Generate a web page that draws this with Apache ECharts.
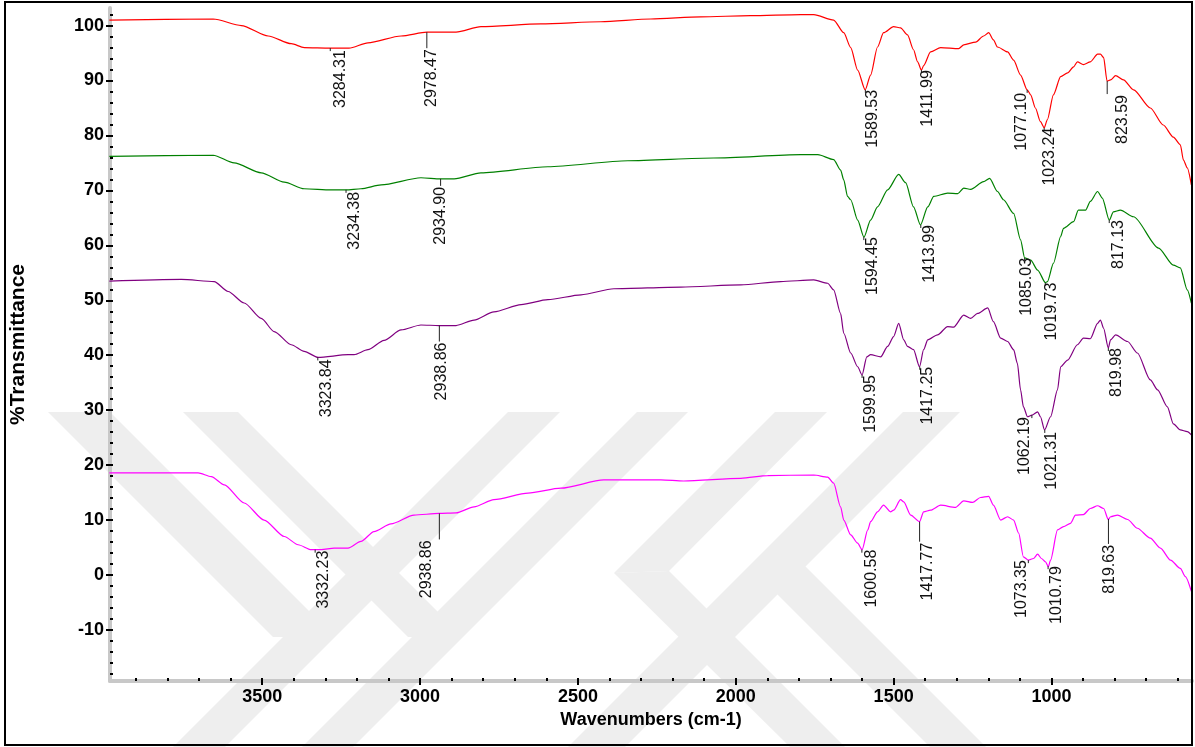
<!DOCTYPE html>
<html>
<head>
<meta charset="utf-8">
<title>FTIR spectra</title>
<script src="https://cdn.jsdelivr.net/npm/echarts@6/dist/echarts.min.js"></script>
<style>
  html, body { margin: 0; padding: 0; background: #fff; }
  #chart { width: 1195px; height: 747px; }
</style>
</head>
<body>
<div id="chart"></div>
<script>
// Data spektrum (bilangan gelombang, %T)
const wnRed = [3984, 3655, 3566, 3481, 3408, 3367, 3285, 3225, 3165, 3060, 2978, 2886, 2807, 2617, 2427, 2269, 2111, 1953, 1794, 1753, 1690, 1658, 1636, 1614, 1590, 1573, 1551, 1532, 1500, 1478, 1456, 1437, 1424, 1412, 1405, 1383, 1351, 1294, 1278, 1240, 1215, 1199, 1184, 1171, 1139, 1120, 1098, 1077, 1066, 1051, 1035, 1023, 1013, 994, 971, 949, 930, 918, 899, 877, 854, 845, 835, 824, 813, 797, 772, 740, 687, 646, 614, 592, 582, 570, 557];
const tRed = [101.0, 101.2, 100.0, 98.1, 96.7, 96.0, 95.9, 95.9, 96.85, 98.1, 98.8, 98.8, 99.8, 100.3, 100.7, 101.2, 101.6, 101.8, 102.0, 102.0, 101.0, 98.7, 96.0, 91.9, 88.3, 91.0, 96.1, 98.7, 99.8, 99.6, 98.3, 95.6, 93.4, 91.9, 92.7, 95.2, 96.0, 95.8, 96.5, 97.0, 98.1, 98.7, 97.4, 96.1, 95.2, 93.7, 91.0, 88.3, 87.4, 85.0, 82.5, 81.4, 82.9, 87.4, 90.7, 91.4, 92.5, 93.4, 92.9, 93.4, 94.8, 94.8, 94.2, 89.9, 90.1, 90.9, 90.1, 88.3, 85.0, 81.9, 79.7, 78.3, 75.5, 74.1, 71.0];

const wnGreen = [3984, 3655, 3589, 3503, 3430, 3367, 3282, 3234, 3187, 3123, 2997, 2935, 2892, 2807, 2595, 2342, 2070, 1794, 1740, 1690, 1668, 1658, 1646, 1636, 1614, 1594, 1573, 1551, 1519, 1484, 1462, 1437, 1415, 1392, 1373, 1329, 1297, 1278, 1256, 1215, 1196, 1171, 1152, 1120, 1098, 1085, 1066, 1044, 1019, 1013, 994, 971, 962, 930, 915, 892, 877, 854, 839, 817, 804, 782, 740, 661, 614, 592, 570, 557];
const tGreen = [76.2, 76.4, 75.0, 73.2, 71.5, 70.3, 70.1, 70.1, 70.3, 71.0, 72.3, 72.1, 72.1, 73.2, 74.3, 75.4, 75.9, 76.5, 76.5, 75.6, 73.7, 71.9, 68.9, 68.3, 64.6, 61.5, 64.6, 67.0, 70.1, 72.9, 71.4, 67.0, 63.7, 67.0, 68.9, 69.5, 69.4, 70.4, 70.2, 71.6, 72.2, 69.8, 68.3, 65.8, 61.0, 57.7, 57.3, 55.5, 53.2, 53.4, 56.7, 61.6, 63.1, 64.3, 66.4, 66.4, 68.0, 69.8, 68.6, 64.6, 66.1, 66.4, 65.2, 59.5, 56.4, 55.9, 51.9, 49.5];

const wnPurple = [3984, 3756, 3652, 3608, 3557, 3503, 3462, 3408, 3367, 3323, 3228, 3209, 3165, 3114, 3060, 2997, 2940, 2886, 2829, 2766, 2680, 2595, 2490, 2386, 2174, 1984, 1858, 1753, 1709, 1690, 1668, 1658, 1636, 1614, 1600, 1585, 1573, 1541, 1519, 1500, 1484, 1468, 1456, 1437, 1418, 1405, 1392, 1361, 1329, 1310, 1278, 1256, 1234, 1202, 1184, 1161, 1139, 1120, 1108, 1098, 1089, 1076, 1062, 1044, 1035, 1022, 1003, 981, 971, 949, 918, 899, 877, 854, 845, 835, 820, 813, 797, 759, 728, 687, 664, 633, 614, 592, 570, 557];
const tPurple = [53.5, 53.8, 53.4, 51.6, 49.5, 46.7, 44.3, 41.9, 40.7, 39.6, 40.1, 40.1, 41.0, 42.7, 44.6, 45.5, 45.4, 45.4, 46.4, 47.9, 49.2, 50.1, 51.0, 52.1, 52.4, 52.8, 53.4, 53.7, 53.1, 51.9, 47.6, 44.0, 40.4, 37.9, 36.4, 39.7, 40.1, 39.7, 41.6, 43.4, 45.8, 42.8, 41.6, 41.0, 37.9, 41.0, 42.8, 43.7, 45.2, 45.1, 47.3, 46.7, 47.6, 48.6, 46.1, 43.1, 42.5, 41.0, 38.5, 33.7, 30.6, 28.8, 29.1, 29.7, 28.8, 26.4, 28.8, 33.7, 37.9, 39.1, 41.9, 43.1, 43.0, 45.8, 46.4, 44.9, 41.3, 42.8, 43.7, 42.5, 40.4, 35.5, 33.7, 30.6, 27.5, 26.4, 26.1, 25.5];

const wnMagenta = [3984, 3703, 3661, 3620, 3557, 3494, 3430, 3386, 3345, 3313, 3272, 3228, 3187, 3146, 3092, 3019, 2940, 2886, 2829, 2766, 2658, 2554, 2418, 2237, 2165, 1984, 1899, 1753, 1709, 1690, 1668, 1658, 1636, 1614, 1600, 1582, 1573, 1551, 1532, 1510, 1500, 1478, 1468, 1446, 1418, 1405, 1383, 1351, 1304, 1278, 1250, 1225, 1199, 1184, 1161, 1139, 1120, 1104, 1089, 1073, 1057, 1044, 1032, 1019, 1010, 1003, 981, 962, 940, 924, 899, 877, 854, 835, 820, 813, 791, 759, 728, 687, 655, 623, 592, 576, 557];
const tMagenta = [18.6, 18.6, 17.9, 16.4, 13.1, 10.0, 7.0, 5.5, 4.6, 4.6, 4.9, 4.9, 6.1, 7.9, 9.3, 10.9, 11.2, 11.3, 12.4, 13.7, 14.9, 15.8, 17.3, 17.3, 17.1, 17.6, 18.1, 18.2, 17.8, 16.7, 12.4, 10.0, 7.3, 5.8, 4.6, 8.2, 9.7, 11.5, 12.7, 11.5, 11.8, 13.7, 13.3, 10.9, 9.7, 11.5, 11.8, 12.7, 12.3, 13.5, 13.2, 14.1, 14.3, 12.7, 10.0, 10.6, 10.0, 7.6, 3.3, 2.7, 3.0, 3.8, 3.0, 2.4, 1.5, 2.7, 8.2, 8.8, 9.4, 10.9, 11.0, 12.1, 12.6, 12.1, 10.1, 10.6, 10.9, 10.1, 8.5, 6.7, 4.9, 2.7, 1.2, -0.3, -3.0];

// Puncak yang diberi label
const peaksRed = [3284.31, 2978.47, 1589.53, 1411.99, 1077.10, 1023.24, 823.59];
const peakTRed = [95.9, 98.8, 88.3, 91.9, 88.3, 81.4, 89.9];
const peaksGreen = [3234.38, 2934.90, 1594.45, 1413.99, 1085.03, 1019.73, 817.13];
const peakTGreen = [70.1, 72.1, 61.5, 63.7, 57.7, 53.2, 64.6];
const peaksPurple = [3323.84, 2938.86, 1599.95, 1417.25, 1062.19, 1021.31, 819.98];
const peakTPurple = [39.6, 45.4, 36.4, 37.9, 29.1, 26.4, 41.3];
const peaksMagenta = [3332.23, 2938.86, 1600.58, 1417.77, 1073.35, 1010.79, 819.63];
const peakTMagenta = [4.6, 11.2, 4.6, 9.7, 2.7, 1.6, 10.2];

// Tick sumbu
const xMajor = [1000, 1500, 2000, 2500, 3000, 3500];
const yMajor = [-10, 0, 10, 20, 30, 40, 50, 60, 70, 80, 90, 100];
const xMinor = [];
for (let v = 600; v <= 3900; v += 100) xMinor.push(v);
const yMinor = [];
for (let v = -18; v <= 102; v += 2) yMinor.push(v);

// Geser label (px): [jarak teks ke puncak, geser horizontal]
const nudgeRed = [[2, 2], [17, -3], [0, -1], [0, -2], [3, -14], [0, -3], [14, 7]];
const nudgeGreen = [[2, 1], [8, -8], [0, 1], [0, 1], [0, -6], [0, -2], [0, 1]];
const nudgePurple = [[2, 1], [17, -6], [0, 1], [0, 0], [2, -15], [2, -1], [0, 0]];
const nudgeMagenta = [[1, 0], [27, -21], [0, 2], [21, 0], [0, -15], [0, 0], [26, -7]];

const pairs = (xs, ys) => xs.map((x, i) => [x, ys[i]]);
const peakData = (xs, ys, nudge) => xs.map((x, i) => [x, ys[i], nudge[i][0], nudge[i][1]]);

const font = 'Liberation Sans, Arial, sans-serif';

// Garis penunjuk + teks vertikal untuk tiap puncak
function renderPeak(params, api) {
    const pt = api.coord([api.value(0), api.value(1)]);
    const off = api.value(2);
    const dx = api.value(3);
    const lead = off >= 6 ? off - 1 : 3;
    return {
        type: 'group',
        children: [{
            type: 'line',
            shape: { x1: pt[0], y1: pt[1], x2: pt[0], y2: pt[1] + lead },
            style: { stroke: '#222', lineWidth: 1 }
        }, {
            type: 'text',
            x: pt[0] + dx,
            y: pt[1] + off,
            rotation: Math.PI / 2,
            style: {
                text: api.value(0).toFixed(2),
                fill: '#111',
                font: '16px ' + font,
                align: 'right',
                verticalAlign: 'top'
            }
        }]
    };
}

function spectrum(name, color, xs, ys) {
    return {
        name: name,
        type: 'line',
        data: pairs(xs, ys),
        showSymbol: false,
        symbol: 'none',
        smooth: 0.25,
        smoothMonotone: 'x',
        lineStyle: { color: color, width: 1.2 },
        z: 3
    };
}

function peakSeries(xs, ys, nudge) {
    return {
        type: 'custom',
        renderItem: renderPeak,
        data: peakData(xs, ys, nudge),
        clip: false,
        z: 4
    };
}

// Tanda air (latar)
function band(points) {
    return {
        type: 'polygon',
        shape: { points: points },
        style: { fill: '#eeeeee' },
        z: -10,
        silent: true
    };
}

const plainNumber = (v) => String(v);

const chart = echarts.init(document.getElementById('chart'));

chart.setOption({
    animation: false,
    backgroundColor: '#ffffff',
    grid: { left: 109, right: 3, top: 8, bottom: 66 },
    xAxis: [{
        type: 'value',
        inverse: true,
        min: 555,
        max: 3982,
        position: 'bottom',
        name: 'Wavenumbers (cm-1)',
        nameLocation: 'middle',
        nameGap: 30,
        nameTextStyle: { fontFamily: font, fontWeight: 'bold', fontSize: 18, color: '#000' },
        axisLine: { onZero: false, lineStyle: { color: '#c8c8c8', width: 4 } },
        axisTick: { customValues: xMajor, length: 4, lineStyle: { color: '#000', width: 2 } },
        axisLabel: { customValues: xMajor, formatter: plainNumber, fontFamily: font, fontWeight: 'bold', fontSize: 18, color: '#000', margin: 7 },
        splitLine: { show: false }
    }, {
        type: 'value',
        inverse: true,
        min: 555,
        max: 3982,
        position: 'bottom',
        axisLine: { show: false, onZero: false },
        axisTick: { customValues: xMinor, inside: true, length: 3, lineStyle: { color: '#000', width: 2 } },
        axisLabel: { show: false },
        splitLine: { show: false }
    }],
    yAxis: [{
        type: 'value',
        min: -19.3,
        max: 103.2,
        position: 'left',
        name: '%Transmittance',
        nameLocation: 'middle',
        nameGap: 81,
        nameTextStyle: { fontFamily: font, fontWeight: 'bold', fontSize: 21, color: '#000' },
        axisLine: { onZero: false, lineStyle: { color: '#c8c8c8', width: 4 } },
        axisTick: { customValues: yMajor, length: 4, lineStyle: { color: '#000', width: 2 } },
        axisLabel: { customValues: yMajor, formatter: plainNumber, fontFamily: font, fontWeight: 'bold', fontSize: 18, color: '#000', margin: 6 },
        splitLine: { show: false }
    }, {
        type: 'value',
        min: -19.3,
        max: 103.2,
        position: 'left',
        axisLine: { show: false, onZero: false },
        axisTick: { customValues: yMinor, inside: true, length: 3, lineStyle: { color: '#000', width: 2 } },
        axisLabel: { show: false },
        splitLine: { show: false }
    }],
    graphic: [
        band([[48, 412], [110, 412], [335, 637], [273, 637]]),
        band([[508, 412], [560, 412], [225, 747], [173, 747]]),
        band([[183, 412], [238, 412], [463, 637], [408, 637]]),
        band([[637, 412], [688, 412], [353, 747], [302, 747]]),
        band([[775, 412], [827, 412], [669, 571], [614, 573]]),
        band([[614, 573], [669, 571], [845, 747], [790, 747]]),
        band([[903, 412], [960, 412], [625, 747], [568, 747]]),
        band([[749, 566], [805, 566], [986, 747], [930, 747]]),
        {
            // bingkai luar
            type: 'rect',
            shape: { x: 5, y: 2, width: 1187, height: 743 },
            style: { fill: null, stroke: '#000', lineWidth: 2 },
            z: 100,
            silent: true
        }
    ],
    series: [
        spectrum('Red', '#ff0000', wnRed, tRed),
        spectrum('Green', '#008000', wnGreen, tGreen),
        spectrum('Purple', '#800080', wnPurple, tPurple),
        spectrum('Magenta', '#ff00ff', wnMagenta, tMagenta),
        peakSeries(peaksRed, peakTRed, nudgeRed),
        peakSeries(peaksGreen, peakTGreen, nudgeGreen),
        peakSeries(peaksPurple, peakTPurple, nudgePurple),
        peakSeries(peaksMagenta, peakTMagenta, nudgeMagenta)
    ]
});
</script>
</body>
</html>
